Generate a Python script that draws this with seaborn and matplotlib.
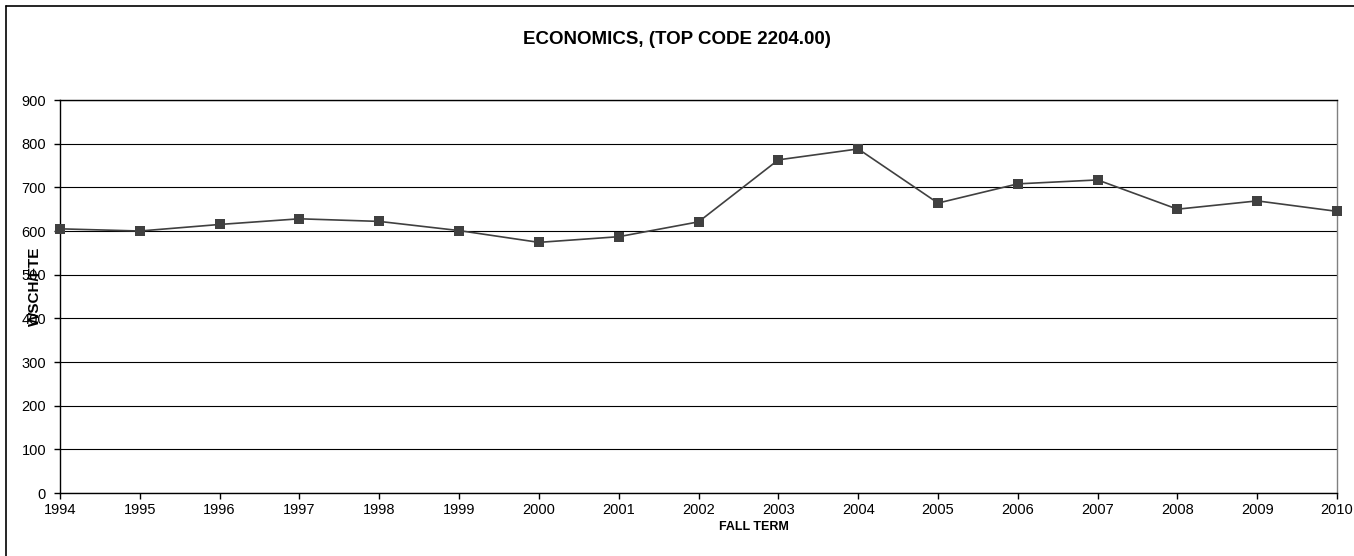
import matplotlib
matplotlib.use('Agg')
import matplotlib.pyplot as plt
from matplotlib.lines import Line2D
import seaborn as sns
import pandas as pd

# Values
years = [1994, 1995, 1996, 1997, 1998, 1999, 2000, 2001, 2002,
         2003, 2004, 2005, 2006, 2007, 2008, 2009, 2010]
wsch_fte = [605, 600, 615, 628, 622, 601, 574, 587, 621,
            763, 788, 664, 708, 717, 650, 669, 645]
y_ticks = [0, 100, 200, 300, 400, 500, 600, 700, 800, 900]

df = pd.DataFrame({'year': years, 'wsch_fte': wsch_fte})

sns.set_style('white')
plt.rcParams['font.family'] = ['Liberation Sans', 'DejaVu Sans']
plt.rcParams['text.color'] = 'black'
plt.rcParams['xtick.color'] = 'black'
plt.rcParams['ytick.color'] = 'black'

fig = plt.figure(figsize=(13.54, 5.56), dpi=100)
ax = fig.add_axes([0.0443, 0.1133, 0.9432, 0.7068])

sns.lineplot(x='year', y='wsch_fte', data=df, ax=ax, color='#404040',
             marker='s', markersize=7, markeredgewidth=0, linewidth=1.2,
             clip_on=False, zorder=3)

ax.set_xlim(1994, 2010)
ax.set_ylim(0, 900)
ax.set_xticks(years)
ax.set_yticks(y_ticks)
ax.tick_params(axis='both', labelsize=10.5, direction='out', length=4,
               width=1, color='black', left=True, bottom=True)
ax.tick_params(axis='x', pad=3)
ax.tick_params(axis='y', pad=6)
ax.yaxis.grid(True, color='black', linewidth=0.8)
ax.set_axisbelow(True)
for side in ['left', 'bottom', 'top']:
    ax.spines[side].set_color('black')
    ax.spines[side].set_linewidth(1)
ax.spines['right'].set_color('#808080')
ax.spines['right'].set_linewidth(1)
ax.set_xlabel('')
ax.set_ylabel('')

fig.text(0.5, 1 - 39 / 556, 'ECONOMICS, (TOP CODE 2204.00)', fontsize=13.5,
         fontweight='bold', ha='center', va='center')
fig.text(0.557, 1 - 527 / 556, 'FALL TERM', fontsize=9,
         fontweight='bold', ha='center', va='center')
# y label sits over the tick labels, as in the original
fig.text(35 / 1354, 1 - 286 / 556, 'WSCH/FTE', rotation=90, fontsize=11,
         fontweight='bold', ha='center', va='center')

# outer chart border (left and top edges visible)
fig.add_artist(Line2D([0.0044, 0.0044], [0, 0.989], color='black',
                      linewidth=1.2, transform=fig.transFigure))
fig.add_artist(Line2D([0.0044, 1.0], [0.989, 0.989], color='black',
                      linewidth=1.2, transform=fig.transFigure))

fig.savefig('out.png', dpi=100)
